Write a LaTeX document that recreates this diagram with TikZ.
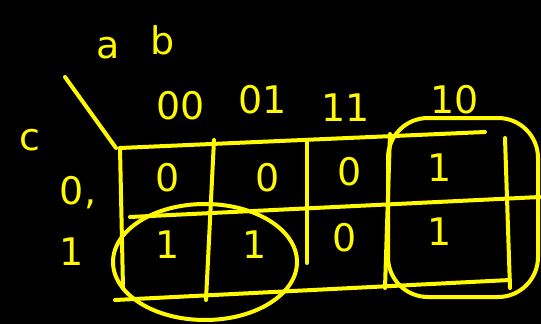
\documentclass[tikz,border=0pt]{standalone}
\usepackage{fontspec}
\setsansfont{DejaVu Sans}
\usetikzlibrary{math}
\definecolor{myyellow}{RGB}{255,250,0}
\tikzset{
  pen/.style={draw=myyellow, line width=4pt, line cap=round, line join=round},
  hand/.style={text=myyellow, font=\sffamily\fontsize{38}{40}\selectfont, inner sep=0pt},
}

\begin{document}
\begin{tikzpicture}[x=1pt,y=-1pt]
\tikzmath{
\xl=120; \xa=214; \xb=307; \xc=390; \xr=530;
\yt=140; \ym=205; \yb=288;
}
\fill[black] (0,0) rectangle (541,324);
\useasboundingbox (0,0) rectangle (541,324);

%grid
\draw[pen] (\xl,\yt+8) -- (\xl+3,\yb);
\draw[pen] (\xl,\yt+8) -- (\xr-45,\yt-8);
\draw[pen] (\xl+10,\ym+12) -- (\xr+10,\ym-8);
\draw[pen] (\xl-5,\yb+12) -- (\xr-20,\yb-8);
\draw[pen] (\xa,\yt) -- (\xa-8,\yb+12);
\draw[pen] (\xb,\yt) -- (\xb,\yb-25);
\draw[pen] (\xc,\yt-6) -- (\xc-5,\yb);
\draw[pen] (\xr-25,\yt-2) -- (\xr-20,\yb);

%corner line and labels
\coordinate (d1) at (65,77);
\coordinate (d2) at (116,148);
\draw[pen] (d1) -- (d2);
\node[hand] (la) at (108,48) {a};
\node[hand] (lb) at (163,40) {b};
\node[hand] (lc) at (30,140) {c};
\node[hand] (c00) at (181,106) {00};
\node[hand] (c01) at (263,100) {01};
\node[hand] (c11) at (346,108) {11};
\node[hand] (c10) at (455,100) {10};
\node[hand] (r0) at (78,193) {0,};
\node[hand] (r1) at (72,252) {1};

%cells
\node[hand] (m0) at (168,178) {0};
\node[hand] (m2) at (268,178) {0};
\node[hand] (m6) at (350,172) {0};
\node[hand] (m4) at (440,168) {1};
\node[hand] (m1) at (168,245) {1};
\node[hand] (m3) at (255,245) {1};
\node[hand] (m7) at (345,238) {0};
\node[hand] (m5) at (440,232) {1};

%groups
\draw[pen] (205,262) ellipse (92 and 58);
\draw[pen, rounded corners=40pt] (388,118) rectangle (538,297);
\end{tikzpicture}
\end{document}
